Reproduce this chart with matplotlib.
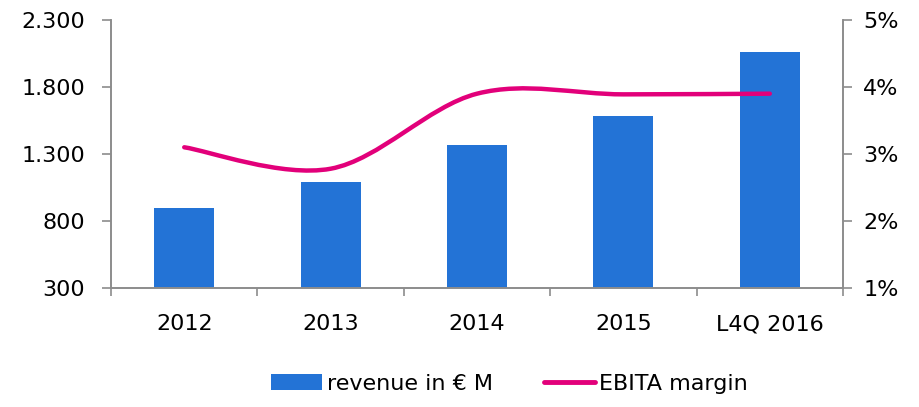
import matplotlib.pyplot as plt
import numpy as np
from matplotlib.path import Path
from matplotlib.patches import PathPatch
from matplotlib.lines import Line2D
from matplotlib.patches import Patch

# 数据
categories = ["2012", "2013", "2014", "2015", "L4Q 2016"]
revenue = [900, 1090, 1370, 1580, 2060]          # revenue in € M
ebita_margin = [3.10, 2.78, 3.90, 3.89, 3.90]    # EBITA margin in %

left_ticks = [300, 800, 1300, 1800, 2300]
left_labels = ["300", "800", "1.300", "1.800", "2.300"]
right_ticks = [1, 2, 3, 4, 5]
right_labels = ["1%", "2%", "3%", "4%", "5%"]

bar_color = "#2373D6"
line_color = "#E2007A"
spine_color = "#8C8C8C"

plt.rcParams['font.family'] = ['DejaVu Sans']
plt.rcParams['font.size'] = 16


def smooth_path(xs, ys):
    # Excel 风格的平滑线: Catmull-Rom 转成三次贝塞尔
    pts = list(zip(xs, ys))
    n = len(pts)
    verts = [pts[0]]
    codes = [Path.MOVETO]
    for i in range(n - 1):
        p0 = pts[i - 1] if i > 0 else pts[i]
        p1 = pts[i]
        p2 = pts[i + 1]
        p3 = pts[i + 2] if i + 2 < n else pts[i + 1]
        c1 = (p1[0] + (p2[0] - p0[0]) / 6, p1[1] + (p2[1] - p0[1]) / 6)
        c2 = (p2[0] - (p3[0] - p1[0]) / 6, p2[1] - (p3[1] - p1[1]) / 6)
        verts += [c1, c2, p2]
        codes += [Path.CURVE4] * 3
    return Path(verts, codes)


fig = plt.figure(figsize=(9.2, 4.07), dpi=100)
ax = fig.add_axes([0.1207, 0.2924, 0.7956, 0.6585])
x = np.arange(len(categories))

ax.bar(x, revenue, width=0.41, color=bar_color, zorder=2)
ax.set_xlim(-0.5, len(categories) - 0.5)
ax.set_ylim(300, 2300)
ax.set_yticks(left_ticks)
ax.set_yticklabels(left_labels)
ax.set_xticks(x)
ax.set_xticklabels(categories)
ax.set_xticks(np.arange(-0.5, len(categories)), minor=True)
ax.tick_params(axis='x', which='major', length=0, pad=19)
ax.tick_params(axis='x', which='minor', length=6, width=1.2, color=spine_color)
ax.tick_params(axis='y', length=6.5, width=1.2, color=spine_color, pad=12)

ax2 = ax.twinx()
ax2.set_ylim(1, 5)
ax2.set_yticks(right_ticks)
ax2.set_yticklabels(right_labels)
ax2.tick_params(axis='y', length=6.5, width=1.2, color=spine_color, pad=8)
ax2.add_patch(PathPatch(smooth_path(x, ebita_margin), facecolor='none',
                        edgecolor=line_color, lw=3.2, capstyle='round', zorder=3))

for a in (ax, ax2):
    a.spines['top'].set_visible(False)
    for s in ('left', 'right', 'bottom'):
        a.spines[s].set_color(spine_color)
        a.spines[s].set_linewidth(1.2)

handles = [Patch(facecolor=bar_color, edgecolor='none'),
           Line2D([0], [0], color=line_color, lw=3.5, solid_capstyle='round')]
fig.legend(handles, ["revenue in € M", "EBITA margin"], loc='center',
           bbox_to_anchor=(0.554, 0.057), ncol=2, frameon=False,
           handlelength=2.3, handletextpad=0.2, columnspacing=2.3, fontsize=16)

fig.savefig("out.png", dpi=100)
